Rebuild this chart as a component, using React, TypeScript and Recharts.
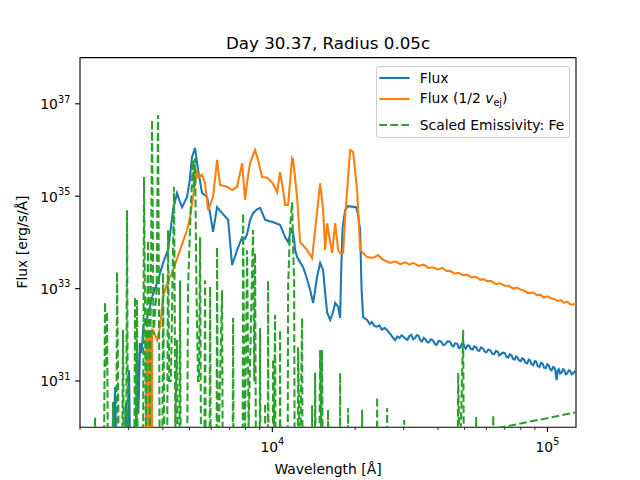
import React from 'react';
import { LineChart, Line, XAxis, YAxis, Legend, ReferenceArea } from 'recharts';

// [wavelength in Angstrom, flux in erg/s/A]
const fluxPoints: [number, number][] = [
  [2640, 1e29], [2682, 7.4e30], [2720, 1e29], [2900, 1e29], [2930, 3.3e30], [2970, 1e29],
  [3015, 1.7e31], [3050, 1e29], [3200, 1e29], [3224, 6.0e31], [3260, 2e30], [3306, 6.6e31],
  [3350, 4.0e31], [3400, 1.6e32], [3475, 2.0e32], [3560, 3.0e32], [3655, 6.6e32], [3750, 1.0e33],
  [3843, 1.5e33], [4007, 3.6e33], [4178, 6.8e33], [4357, 5.0e34], [4506, 1.17e35], [4600, 8.0e34],
  [4698, 5.8e34], [4800, 7.5e34], [4898, 9.6e34], [5000, 2.0e35], [5108, 7.1e35], [5238, 1.1e36],
  [5372, 3.7e35], [5555, 1.17e35], [5794, 9.6e34], [5950, 4.0e34], [6090, 1.7e34], [6299, 5.8e34],
  [6569, 4.3e34], [6907, 3.1e34], [7000, 1.3e34], [7142, 3.2e33], [7447, 6.8e33], [7768, 1.3e34],
  [7962, 1.2e34], [8097, 1.5e34], [8300, 3.0e34], [8513, 4.3e34], [8800, 5.2e34], [9027, 5.6e34],
  [9200, 4.3e34], [9414, 3.1e34], [9700, 2.9e34], [9983, 2.8e34], [10300, 2.6e34], [10673, 2.4e34],
  [11130, 1.3e34], [11413, 1.02e34], [11600, 1.5e34], [11800, 2.05e34], [12000, 1.2e34], [12100, 6.8e33],
  [12305, 4.8e33], [12940, 2.9e33], [13300, 1.8e33], [13723, 9.3e32], [14072, 4.9e32], [14300, 9e32],
  [14548, 1.8e33], [14924, 3.6e33], [15303, 2.5e33], [15562, 8e32], [15826, 3.0e32], [16229, 2.1e32],
  [16600, 3.0e32], [16922, 4.9e32], [17353, 4.0e32], [17641, 2.3e32], [17800, 2.5e33], [18000, 2.0e34],
  [18395, 5.0e34], [18863, 6.1e34], [20170, 5.8e34], [20500, 4.0e34], [20854, 1.85e34], [21100, 1e33],
  [21385, 2.4e32], [22110, 2.1e32], [22600, 1.7e32], [23000, 1.9e32], [23500, 1.55e32], [24043, 1.5e32],
  [24500, 1.6e32], [25000, 1.3e32], [25600, 1.4e32], [26140, 1.27e32], [26600, 1.1e32], [27000, 1.0e32],
  [27500, 8.5e31], [27970, 7.7e31], [28500, 9.2e31], [29000, 8.5e31], [29500, 9.8e31], [30000, 9.0e31],
  [30500, 8.2e31], [31000, 7.8e31], [31500, 9.4e31], [32000, 1.0e32], [32500, 8.0e31], [33000, 8.5e31],
  [33500, 9.8e31], [34000, 9.5e31], [34500, 7.6e31], [35000, 7.2e31], [35500, 8.6e31], [36000, 8.0e31],
  [36500, 7.0e31], [37000, 6.8e31], [37700, 8.0e31], [38400, 7.5e31], [39000, 6.3e31], [39500, 6.0e31],
  [40200, 7.4e31], [41000, 7.2e31], [41800, 6.0e31], [42500, 6.2e31], [43400, 7.3e31], [44300, 7.0e31],
  [44900, 5.9e31], [45500, 5.6e31], [46200, 6.6e31], [47000, 6.4e31], [47600, 5.2e31], [48200, 5.3e31],
  [48800, 6.3e31], [49400, 6.6e31], [50000, 5.4e31], [50500, 5.0e31], [51200, 5.9e31], [52000, 5.8e31],
  [52700, 4.9e31], [53500, 4.8e31], [54200, 5.6e31], [55000, 5.4e31], [55800, 4.6e31], [56500, 4.5e31],
  [57400, 5.3e31], [58400, 5.0e31], [59200, 4.3e31], [60000, 4.2e31], [61000, 4.8e31], [62000, 4.6e31],
  [63000, 3.9e31], [64000, 3.8e31], [65000, 4.5e31], [66000, 4.3e31], [66700, 3.6e31], [67400, 3.7e31],
  [68700, 4.1e31], [70000, 4.0e31], [71000, 3.3e31], [72000, 3.2e31], [73000, 3.8e31], [74000, 3.6e31],
  [75000, 3.0e31], [76000, 2.9e31], [76800, 3.4e31], [77600, 3.3e31], [78800, 2.8e31], [80000, 2.7e31],
  [81000, 3.1e31], [82000, 3.0e31], [83200, 2.5e31], [84500, 2.4e31], [85500, 2.9e31], [86500, 2.8e31],
  [87600, 2.3e31], [88800, 2.2e31], [90000, 2.7e31], [91000, 2.6e31], [92200, 2.1e31], [93500, 2.0e31],
  [94800, 2.5e31], [96000, 2.4e31], [97200, 1.95e31], [98500, 1.9e31], [99800, 2.3e31], [101000, 2.2e31],
  [102200, 1.8e31], [103500, 1.7e31], [104800, 2.0e31], [106000, 1.95e31], [107000, 1.6e31],
  [108000, 1.05e31], [109000, 1.7e31], [110000, 1.8e31], [111200, 1.45e31], [112500, 1.5e31],
  [113800, 1.8e31], [115000, 1.75e31], [116500, 1.4e31], [118000, 1.45e31], [119500, 1.7e31],
  [121000, 1.65e31], [122500, 1.4e31], [124000, 1.45e31], [125500, 1.6e31], [127000, 1.5e31],
];

const halfVejPoints: [number, number][] = [
  [3470, 1e29], [3484, 1.2e32], [3492, 1e29], [3500, 1.2e32], [3508, 1e29], [3516, 1.25e32], [3524, 1e29],
  [3532, 1.2e32], [3540, 1e29], [3548, 1.25e32], [3556, 1e29], [3564, 1.2e32], [3572, 1e29],
  [3580, 1.25e32], [3588, 1e29], [3596, 1.2e32], [3604, 1e29], [3612, 1.25e32], [3620, 1e29],
  [3628, 1.2e32], [3636, 1e29], [3644, 1.25e32], [3652, 1e29], [3660, 1.3e32], [3686, 1.27e32],
  [3811, 7.7e31], [3908, 1.5e32], [4007, 6.6e32], [4144, 1.3e33], [4357, 2.5e33], [4620, 6.8e33],
  [4898, 1.85e34], [5023, 3.5e34], [5238, 1.9e35], [5327, 3.7e35], [5372, 2.6e35], [5555, 2.9e35],
  [5697, 1.9e35], [5842, 5.0e34], [6090, 9.6e34], [6299, 6.1e35], [6459, 1.75e35], [6850, 1.6e35],
  [7142, 1.36e35], [7447, 1.6e35], [7768, 5.2e35], [7962, 8.3e34], [8097, 2.0e35], [8302, 5.2e35],
  [8658, 1.0e36], [8878, 6.1e35], [9181, 2.6e35], [9573, 2.5e35], [9983, 2.0e35], [10409, 1.23e35],
  [10673, 3.3e35], [10944, 1.36e35], [11130, 6.5e34], [11413, 6.5e34], [11800, 6.7e35], [11899, 6.1e35],
  [12305, 9.6e34], [12619, 1.02e34], [13383, 6.8e33], [13956, 4.6e33], [14308, 1.85e34], [14924, 1.9e35],
  [15303, 5.0e34], [15562, 6.8e33], [15826, 2.6e34], [16229, 1.02e34], [16503, 5.9e33], [16922, 2.6e34],
  [17353, 6.8e33], [17641, 5.9e33], [18088, 5.9e33], [18395, 3.5e34], [19179, 1.0e36], [19667, 9.1e35],
  [20335, 1.36e35], [20854, 6.8e33], [21385, 5.9e33], [22110, 4.8e33], [23249, 4.6e33], [24244, 5.3e33],
  [25280, 4.2e33], [26820, 3.6e33], [28000, 3.9e33], [29200, 3.4e33], [30500, 3.7e33], [31500, 3.3e33],
  [32500, 3.6e33], [34000, 3.1e33], [35500, 3.3e33], [37000, 2.8e33], [38400, 2.9e33], [40000, 2.6e33],
  [41500, 2.8e33], [43000, 2.4e33], [44300, 2.4e33], [46000, 2.1e33], [47500, 2.2e33], [49400, 1.95e33],
  [51000, 2.0e33], [53000, 1.75e33], [55000, 1.8e33], [57000, 1.55e33], [58400, 1.6e33], [60500, 1.45e33],
  [62500, 1.45e33], [65000, 1.25e33], [67400, 1.3e33], [70000, 1.15e33], [72500, 1.15e33], [75000, 1.0e33],
  [77600, 1.05e33], [80000, 9.5e32], [82500, 9.0e32], [85000, 8.0e32], [88800, 8.2e32], [91500, 7.2e32],
  [94000, 7.4e32], [97000, 6.4e32], [100000, 6.8e32], [103000, 6.2e32], [106000, 5.9e32], [109000, 5.4e32],
  [112000, 5.6e32], [115000, 4.9e32], [118000, 5.2e32], [121000, 4.6e32], [124000, 4.5e32], [127000, 4.9e32],
];

const emissivityPoints: [number, number][] = [
  [2000, 1e27], [2240, 1e27], [2268, 1.66e30], [2290, 1e27],
  [2430, 1e27], [2466, 5.1e32], [2490, 2e31], [2507, 3.2e32], [2540, 1e27],
  [2610, 1e27], [2636, 3.5e30], [2660, 1e27],
  [2700, 1e27], [2727, 2.3e33], [2770, 1e29], [2830, 1e27], [2867, 1.27e32], [2900, 1e27],
  [2935, 1e27], [2965, 5.0e34], [2990, 1e28],
  [3140, 1e27], [3170, 6.6e32], [3195, 1e30], [3224, 5.7e32], [3250, 1e27],
  [3380, 1e27], [3418, 2.6e35], [3470, 1e30], [3535, 1.1e34], [3590, 1e30], [3655, 4.5e36],
  [3700, 1e32], [3748, 3e32], [3800, 1e33], [3843, 5.7e36], [3900, 1e29],
  [3970, 1e27], [4007, 2.2e33], [4060, 1e29],
  [4140, 1e28], [4178, 1.85e34], [4220, 1e31], [4280, 1e31], [4394, 1.6e35], [4440, 1e30],
  [4506, 7.7e31], [4550, 1e27],
  [4590, 1e27], [4620, 1.5e33], [4660, 1e27],
  [4880, 1e27], [4939, 1e33], [5050, 5e34], [5151, 6.1e35], [5190, 1.5e35], [5238, 6.7e35],
  [5300, 1e33], [5372, 1e31], [5420, 1e31], [5463, 1.3e34], [5520, 1e28],
  [5650, 1e28], [5697, 1.5e33], [5740, 1e27],
  [5900, 1e27], [5941, 1.1e33], [5990, 1e27],
  [6260, 1e27], [6299, 7.9e33], [6340, 1e29], [6569, 9.3e32], [6620, 1e27],
  [7160, 1e27], [7203, 2.3e32], [7250, 1e27],
  [7790, 1e27], [7832, 4.3e34], [7900, 1e31], [7960, 1e30], [8097, 6.8e33], [8200, 1e30],
  [8513, 1.85e34], [8600, 1e31], [8658, 5.9e33], [8750, 1e27],
  [8980, 1e27], [9027, 1.4e32], [9080, 1e27],
  [9380, 1e27], [9414, 3.3e30], [9450, 1e27],
  [9620, 1e27], [9654, 1.5e33], [9700, 1e27],
  [10030, 1e27], [10067, 3.0e31], [10150, 1e30], [10235, 2.7e32], [10300, 1e27],
  [10630, 1e27], [10673, 1.27e32], [10720, 1e27],
  [11350, 1e27], [11413, 1e33], [11600, 2e34], [11800, 7.4e34], [11899, 1e34], [12000, 1.3e33], [12100, 1e27],
  [12350, 1e27], [12408, 5.4e31], [12600, 1e29], [12834, 2.3e32], [12900, 1e27],
  [13900, 1e27], [13956, 3e30], [14000, 1e27],
  [14250, 1e27], [14308, 1.5e31], [14400, 1e29], [14800, 1e29], [14924, 4.7e31], [15050, 1e30],
  [15171, 4.7e31], [15300, 1e27],
  [15900, 1e27], [15945, 2.4e30], [16000, 1e27],
  [17600, 1e27], [17641, 1.5e31], [17700, 1e27],
  [18800, 1e27], [18863, 2.6e30], [18920, 1e27],
  [21150, 1e27], [21208, 2.4e30], [21270, 1e27],
  [23950, 1e27], [24043, 4.5e30], [24150, 1e27],
  [26050, 1e27], [26140, 2.6e30], [26250, 1e27],
  [30050, 1e27], [30160, 1.43e30], [30280, 1e27],
  [47000, 1e27], [47380, 1.5e31], [48000, 1e29], [49390, 1.27e32], [49900, 1e27],
  [54800, 1e27], [55080, 1.66e30], [55400, 1e27],
  [63200, 1e27], [63500, 1.8e30], [64200, 1e27], [65700, 9.5e29], [127000, 2.1e30],
];

const xTicks = [2000, 3000, 4000, 5000, 6000, 7000, 8000, 9000, 10000,
  20000, 30000, 40000, 50000, 60000, 70000, 80000, 90000, 100000];
const xMajor = [10000, 100000];
const yTicks = [1e31, 1e33, 1e35, 1e37];
const xDomain = [2000, 127000];
const yDomain = [1e30, 1e38];

const FONT = '"DejaVu Sans", sans-serif';
const BLUE = '#1f77b4';
const ORANGE = '#ff7f0e';
const GREEN = '#2ca02c';

const toRows = (pts: [number, number][]) => pts.map(([x, y]) => ({ x, y }));

const Pow10 = ({ x, y, exp, anchor }: any) => (
  <text x={x} y={y} textAnchor={anchor} fontFamily={FONT} fontSize={13.9} fill="#000">
    <tspan>10</tspan>
    <tspan dy={-6.5} fontSize={9.7}>{exp}</tspan>
  </text>
);

const XTick = (props: any) => {
  const { x, y, payload } = props;
  const major = xMajor.includes(payload.value);
  return (
    <g>
      <line x1={x} x2={x} y1={y} y2={y + (major ? 4.9 : 2.8)} stroke="#000" strokeWidth={major ? 1.1 : 0.8} />
      {major && <Pow10 x={x} y={y + 24.3} exp={Math.round(Math.log10(payload.value))} anchor="middle" />}
    </g>
  );
};

const YTick = (props: any) => {
  const { x, y, payload } = props;
  return (
    <g>
      <line x1={x} x2={x - 4.9} y1={y} y2={y} stroke="#000" strokeWidth={1.1} />
      <Pow10 x={x - 9.7} y={y + 5.3} exp={Math.round(Math.log10(payload.value))} anchor="end" />
    </g>
  );
};

const LegendBox = () => {
  const rows = [
    { top: 11, color: BLUE, dash: undefined, label: <span>Flux</span> },
    { top: 32.6, color: ORANGE, dash: undefined, label: <span>Flux (1/2 <i>v</i><sub style={{ fontSize: 9.7, verticalAlign: -3 }}>ej</sub>)</span> },
    { top: 58.3, color: GREEN, dash: '7.7 3.3', label: <span>Scaled Emissivity: Fe</span> },
  ];
  return (
    <div style={{ position: 'relative', width: 194, height: 72, boxSizing: 'border-box', border: '1px solid #cccccc', borderRadius: 3, background: 'rgba(255,255,255,0.8)', fontFamily: FONT, fontSize: 13.9, color: '#000' }}>
      {rows.map((r, i) => (
        <div key={i} style={{ position: 'absolute', left: 0, top: r.top - 11, height: 22, display: 'flex', alignItems: 'center', whiteSpace: 'nowrap' }}>
          <svg width={43} height={22} style={{ display: 'block' }}>
            <line x1={2.3} x2={32.6} y1={11} y2={11} stroke={r.color} strokeWidth={2.08} strokeDasharray={r.dash} />
          </svg>
          {r.label}
        </div>
      ))}
    </div>
  );
};

export default function App() {
  return (
    <div style={{ position: 'absolute', left: 0, top: 0, width: 640, height: 480, background: '#fff', fontFamily: FONT }}>
      <div style={{ position: 'absolute', left: 0, width: 656, top: 33, textAlign: 'center', fontSize: 16.7, lineHeight: '20px' }}>
        Day 30.37, Radius 0.05c
      </div>
      <LineChart width={640} height={480} margin={{ top: 57.6, right: 64, bottom: 22.8, left: 20 }}>
        <XAxis dataKey="x" type="number" scale="log" domain={xDomain} allowDataOverflow ticks={xTicks}
          interval={0} height={30} axisLine={false} tickLine={false} tickSize={0} tickMargin={0} tick={(p: any) => <XTick {...p} />} />
        <YAxis type="number" scale="log" domain={yDomain} allowDataOverflow ticks={yTicks}
          interval={0} width={60} axisLine={false} tickLine={false} tickSize={0} tickMargin={0} tick={(p: any) => <YTick {...p} />} />
        <Line data={toRows(fluxPoints)} dataKey="y" type="linear" stroke={BLUE} strokeWidth={2.08} dot={false} isAnimationActive={false} />
        <Line data={toRows(halfVejPoints)} dataKey="y" type="linear" stroke={ORANGE} strokeWidth={2.08} dot={false} isAnimationActive={false} />
        <Line data={toRows(emissivityPoints)} dataKey="y" type="linear" stroke={GREEN} strokeWidth={2.08} strokeDasharray="7.7 3.3" dot={false} isAnimationActive={false} />
        <ReferenceArea x1={xDomain[0]} x2={xDomain[1]} y1={yDomain[0]} y2={yDomain[1]} fill="none" stroke="#000" strokeWidth={1.1} ifOverflow="visible" />
        <Legend layout="vertical" align="center" verticalAlign="middle" wrapperStyle={{ left: 375.7, top: 65.7, width: 194, height: 72 }} content={() => <LegendBox />} />
      </LineChart>
      <div style={{ position: 'absolute', left: 0, width: 656, top: 460, textAlign: 'center', fontSize: 13.9, lineHeight: '18px' }}>
        Wavelength [Å]
      </div>
      <div style={{ position: 'absolute', left: 22 - 100, top: 242 - 9, width: 200, textAlign: 'center', fontSize: 13.9, lineHeight: '18px', transform: 'rotate(-90deg)' }}>
        Flux [erg/s/Å]
      </div>
    </div>
  );
}
